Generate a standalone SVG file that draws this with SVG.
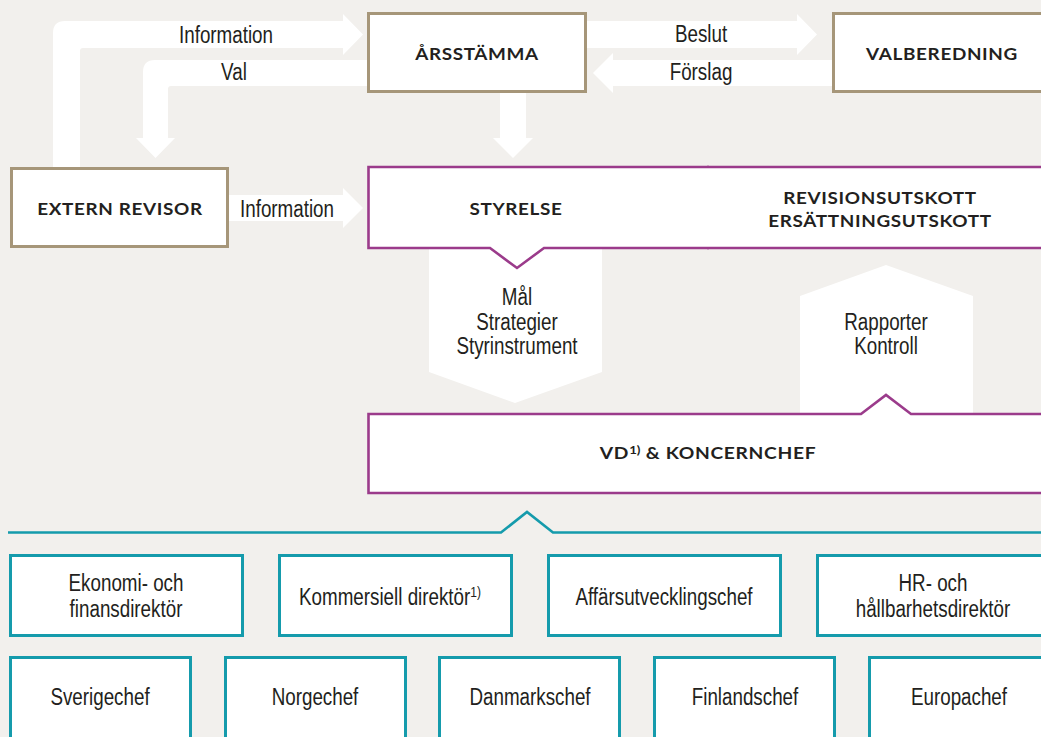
<svg xmlns="http://www.w3.org/2000/svg" width="1041" height="737" viewBox="0 0 1041 737">
<style>
.bg{fill:#f2f0ed}
.arr{fill:#ffffff}
.tan{fill:#ffffff;stroke:#a69679;stroke-width:3}
.pur{fill:#ffffff;stroke:#9b3b8b;stroke-width:2.6}
.teal{fill:#ffffff;stroke:#159bac;stroke-width:3}
.tline{fill:none;stroke:#159bac;stroke-width:2.6}
.b{font-family:Lato,"Open Sans","DejaVu Sans",sans-serif;font-weight:700;font-size:17.5px;fill:#231f20;text-anchor:middle;letter-spacing:0.6px}
.n{font-family:"Liberation Sans",Arial,sans-serif;font-size:23.5px;fill:#231f20;text-anchor:middle}
</style>
<rect class="bg" x="0" y="0" width="1041" height="737"/>
<g id="connectors">
<path class="arr" d="M53,167 V33 Q53,21 65,21 H343 V14 L363,34.5 L343,55 V48 H83 Q80,48 80,51 V167 Z"/>
<path class="arr" d="M368,60 H155 Q143,60 143,72 V138 H136 L155.5,158 L175,138 H168 V89 Q168,86 171,86 H368 Z"/>
<path class="arr" d="M229,195 H343 V188 L363,208 L343,228 V221 H229 Z"/>
<path class="arr" d="M586,21 H797 V14 L817,34.5 L797,55 V48 H586 Z"/>
<path class="arr" d="M834,60 H613 V53 L593,73 L613,93 V86 H834 Z"/>
<path class="arr" d="M500,92 V138 H493 L513,158 L533,138 H526 V92 Z"/>
<path class="arr" d="M429,247 H602 V372 L515,403 L429,372 Z"/>
<path class="arr" d="M800,415 V296 L886,265 L973,296 V415 Z"/>
<path class="tline" d="M8,532.5 H501 L527,512 L553,532.5 H1050"/>
<text class="n" transform="translate(226,42.5) scale(0.8,1)">Information</text>
<text class="n" transform="translate(234,80) scale(0.8,1)">Val</text>
<text class="n" transform="translate(287,217) scale(0.8,1)">Information</text>
<text class="n" transform="translate(701,42) scale(0.8,1)">Beslut</text>
<text class="n" transform="translate(701,80) scale(0.8,1)">Förslag</text>
<text class="n" transform="translate(517,305) scale(0.8,1)">Mål</text>
<text class="n" transform="translate(517,330) scale(0.8,1)">Strategier</text>
<text class="n" transform="translate(517,354) scale(0.8,1)">Styrinstrument</text>
<text class="n" transform="translate(886,330) scale(0.8,1)">Rapporter</text>
<text class="n" transform="translate(886,354) scale(0.8,1)">Kontroll</text>
</g>
<g id="arsstamma">
<rect class="tan" x="368.5" y="13.5" width="217" height="78"/>
<text class="b" transform="translate(477,60) scale(1.08,1)">ÅRSSTÄMMA</text>
</g>
<g id="valberedning">
<rect class="tan" x="833.5" y="13.5" width="230" height="78"/>
<text class="b" transform="translate(942,60) scale(1.08,1)">VALBEREDNING</text>
</g>
<g id="extern-revisor">
<rect class="tan" x="11.5" y="168.5" width="216" height="78"/>
<text class="b" transform="translate(120,215) scale(1.08,1)">EXTERN REVISOR</text>
</g>
<g id="styrelse">
<path class="pur" d="M709,167 H368.5 V248 H490 L517,268 L544,248 H709"/>
<text class="b" transform="translate(516,215) scale(1.08,1)">STYRELSE</text>
</g>
<g id="utskott">
<path class="pur" d="M707,167 H1055 V248 H707"/>
<text class="b" transform="translate(880,203.5) scale(1.08,1)">REVISIONSUTSKOTT</text>
<text class="b" transform="translate(880,227) scale(1.08,1)">ERSÄTTNINGSUTSKOTT</text>
</g>
<g id="vd">
<path class="pur" d="M1055,414 H911 L886,395 L861,414 H368.5 V493 H1055"/>
<text class="b" transform="translate(708,459) scale(1.1,1)">VD<tspan font-size="12" letter-spacing="0" dy="-5">1)</tspan><tspan dy="5"> &amp; KONCERNCHEF</tspan></text>
</g>
<g id="ekonomi">
<rect class="teal" x="10.5" y="555.5" width="232" height="80"/>
<text class="n" transform="translate(126,591) scale(0.8,1)">Ekonomi- och</text>
<text class="n" transform="translate(126,617) scale(0.8,1)">finansdirektör</text>
</g>
<g id="kommersiell">
<rect class="teal" x="279.5" y="555.5" width="232" height="80"/>
<text class="n" transform="translate(390,605) scale(0.8,1)">Kommersiell direktör<tspan font-size="15" dy="-8">1)</tspan></text>
</g>
<g id="affarsutveckling">
<rect class="teal" x="548.5" y="555.5" width="232" height="80"/>
<text class="n" transform="translate(664,605) scale(0.8,1)">Affärsutvecklingschef</text>
</g>
<g id="hr">
<rect class="teal" x="817.5" y="555.5" width="240" height="80"/>
<text class="n" transform="translate(933,591) scale(0.8,1)">HR- och</text>
<text class="n" transform="translate(933,617) scale(0.8,1)">hållbarhetsdirektör</text>
</g>
<g id="sverige">
<rect class="teal" x="10.5" y="657.5" width="180" height="100"/>
<text class="n" transform="translate(100,704.5) scale(0.8,1)">Sverigechef</text>
</g>
<g id="norge">
<rect class="teal" x="225.5" y="657.5" width="180" height="100"/>
<text class="n" transform="translate(315,704.5) scale(0.8,1)">Norgechef</text>
</g>
<g id="danmark">
<rect class="teal" x="439.5" y="657.5" width="180" height="100"/>
<text class="n" transform="translate(530,704.5) scale(0.8,1)">Danmarkschef</text>
</g>
<g id="finland">
<rect class="teal" x="654.5" y="657.5" width="180" height="100"/>
<text class="n" transform="translate(745,704.5) scale(0.8,1)">Finlandschef</text>
</g>
<g id="europa">
<rect class="teal" x="869.5" y="657.5" width="200" height="100"/>
<text class="n" transform="translate(959,704.5) scale(0.8,1)">Europachef</text>
</g>
</svg>
